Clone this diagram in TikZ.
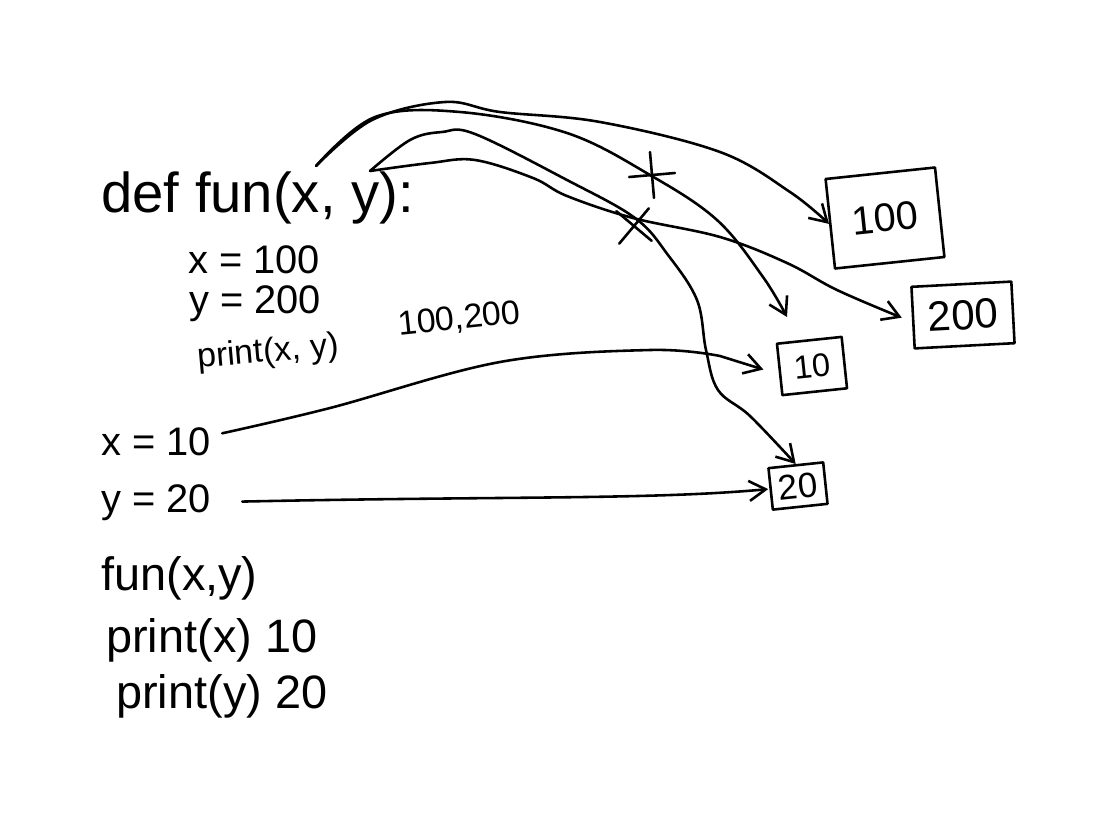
\documentclass[tikz,border=0pt]{standalone}
\usepackage{fontspec}
\setmainfont{Liberation Sans}
\usetikzlibrary{arrows.meta,shapes.misc}

\begin{document}
\begin{tikzpicture}[
  x=0.03cm, y=-0.03cm, line width=2.2pt, line cap=round, line join=round,
  code/.style={anchor=base west, inner sep=0pt, font=\fontsize{#1}{#1}\selectfont},
  cell/.style={draw, inner sep=0pt, rotate=6},
  arr/.style={-{Straight Barb[length=5mm,width=6mm]}},
  strike/.style={draw, cross out, minimum size=0.9cm, inner sep=0pt}]
  \useasboundingbox (0,0) rectangle (1118,831);
  % function body
  \node[code=48pt] (deffun) at (100,212) {def fun(x, y):};
  \node[code=34pt] (xhund) at (187,273) {x = 100};
  \node[code=34pt] (yhund) at (188,313) {y = 200};
  \node[code=29pt, rotate=5] (prin) at (197,368) {print(x, y)};
  \node[code=29pt, rotate=6] (prout) at (398,336) {100,200};
  % main program
  \node[code=34pt] (xten) at (100,455) {x = 10};
  \node[code=34pt] (ytwenty) at (100,512) {y = 20};
  \node[code=40pt] (call) at (100,590) {fun(x,y)};
  \node[code=40pt] (printx) at (105,652) {print(x) 10};
  \node[code=40pt] (printy) at (115,708) {print(y) 20};
  % objects
  \node[cell, minimum width=3.3cm, minimum height=2.7cm, font=\fontsize{34pt}{34pt}\selectfont] (b100) at (885,218) {100};
  \node[cell, rotate=-3, minimum width=3.0cm, minimum height=1.85cm, font=\fontsize{36pt}{36pt}\selectfont] (b200) at (963,315) {200};
  \node[cell, minimum width=1.95cm, minimum height=1.55cm, font=\fontsize{28pt}{28pt}\selectfont] (b10) at (812,366) {10};
  \node[cell, minimum width=1.65cm, minimum height=1.25cm, font=\fontsize{30pt}{30pt}\selectfont] (b20) at (798,486) {20};
  \coordinate (xp) at (316,166);
  \coordinate (yp) at (370,171);
  \coordinate (oldx) at (787,317);
  % bindings
  \draw[arr] (xten.east) ++(10,-8) coordinate (xs)
    plot[smooth, tension=0.6] coordinates {(xs) (330,408) (500,362) (650,350) (720,356)}
    -- ([xshift=-0.45cm]b10.west);
  \draw[arr, shorten <=0.9cm, shorten >=1pt] (ytwenty.east) .. controls (500,496) and (650,500) .. (b20.west);
  \draw[arr] plot[smooth, tension=0.6] coordinates {(xp) (372,120) (445,102) (500,112) (600,122) (720,152) (790,192) (b100.west)};
  \draw[arr] plot[smooth, tension=0.6] coordinates {(xp) (375,117) (460,112) (567,133) (650,175) (717,220) (763,277) (oldx)};
  \draw[arr] plot[smooth, tension=0.6] coordinates {(yp) (410,140) (442,132) (475,134) (567,180) (635,218) (668,255) (697,300) (706,350) (718,390) (750,416) (b20.north)};
  \draw[arr] plot[smooth, tension=0.6] coordinates {(yp) (430,163) (475,160) (533,178) (567,196) (633,218) (720,237) (787,263) (837,290) ([xshift=-0.3cm]b200.west)};
  % struck out
  \node[strike, rotate=50] (cx) at (652,175) {};
  \node[strike, rotate=5] (cy) at (634,226) {};
\end{tikzpicture}
\end{document}
